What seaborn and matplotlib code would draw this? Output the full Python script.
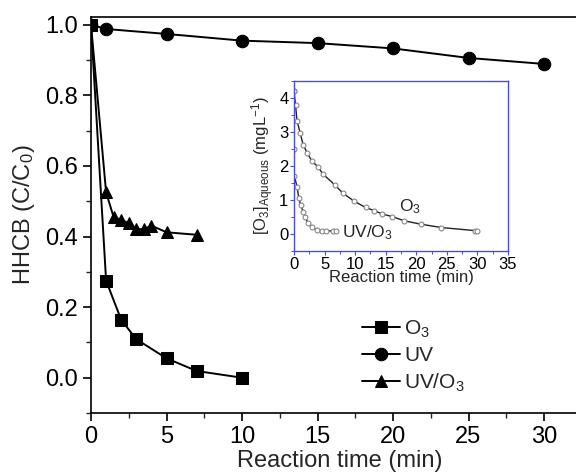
import numpy as np
import pandas as pd
import matplotlib
matplotlib.use("Agg")
import matplotlib.pyplot as plt
import seaborn as sns
from matplotlib.ticker import MultipleLocator

# ---- main data ----
t_o3 = [0, 1, 2, 3, 5, 7, 10]
c_o3 = [1.0, 0.275, 0.164, 0.109, 0.055, 0.019, 0.0]

t_uv = [0, 1, 5, 10, 15, 20, 25, 30]
c_uv = [1.0, 0.988, 0.974, 0.955, 0.948, 0.933, 0.906, 0.889]

t_uvo3 = [0, 1, 1.5, 2, 2.5, 3, 3.5, 4, 5, 7]
c_uvo3 = [1.0, 0.525, 0.455, 0.447, 0.438, 0.421, 0.421, 0.431, 0.412, 0.405]

# ---- inset data ----
ti_o3 = [0, 0.25, 0.5, 1, 1.5, 2.2, 2.9, 3.9, 4.7, 6.7, 8.0, 9.8, 11.7, 13.1, 14.4, 16.1, 18.0, 20.7, 24.1, 29.6, 30]
ci_o3 = [4.2, 3.8, 3.32, 2.98, 2.62, 2.37, 2.15, 1.98, 1.77, 1.44, 1.2, 0.97, 0.78, 0.69, 0.59, 0.51, 0.39, 0.29, 0.19, 0.1, 0.1]

ti_uvo3 = [0, 0.02, 0.05, 0.5, 0.8, 1.1, 1.5, 1.8, 2.3, 2.9, 3.7, 4.5, 5.3, 6.3, 6.8]
ci_uvo3 = [4.2, 2.5, 1.72, 1.38, 1.05, 0.85, 0.66, 0.51, 0.31, 0.21, 0.12, 0.08, 0.09, 0.09, 0.09]

sns.set_style("ticks")
plt.rcParams['font.family'] = ['Liberation Sans', 'DejaVu Sans']
plt.rcParams['mathtext.fontset'] = 'custom'
plt.rcParams['mathtext.rm'] = 'Liberation Sans'
plt.rcParams['mathtext.it'] = 'Liberation Sans:italic'

fig = plt.figure(figsize=(5.76, 4.74), dpi=100)
ax = fig.add_axes([91/576, 1-413/474, 33*15.1/576, (413-17)/474])

sns.lineplot(x=t_o3, y=c_o3, ax=ax, color='black', marker='s', markersize=8,
             markeredgecolor='black', lw=1.4, label='O$_3$')
sns.lineplot(x=t_uv, y=c_uv, ax=ax, color='black', marker='o', markersize=9,
             markeredgecolor='black', lw=1.4, label='UV')
sns.lineplot(x=t_uvo3, y=c_uvo3, ax=ax, color='black', marker='^', markersize=9,
             markeredgecolor='black', lw=1.4, label='UV/O$_3$')

ax.set_xlim(0, 33)
ax.set_ylim(-0.1, 1.022)
ax.xaxis.set_major_locator(MultipleLocator(5))
ax.xaxis.set_minor_locator(MultipleLocator(2.5))
ax.yaxis.set_major_locator(MultipleLocator(0.2))
ax.yaxis.set_minor_locator(MultipleLocator(0.1))
ax.tick_params(which='major', direction='out', length=6, width=1.2, labelsize=17, colors='black')
ax.tick_params(which='minor', direction='out', length=3.5, width=1.0)
ax.set_xlabel('Reaction time (min)', fontsize=17, labelpad=1)
ax.set_ylabel('HHCB (C/C$_0$)', fontsize=17, labelpad=6)
for s in ax.spines.values():
    s.set_linewidth(1.2)
    s.set_color('black')
ax.yaxis.set_major_formatter(matplotlib.ticker.FormatStrFormatter('%.1f'))

leg = ax.legend(loc='upper left', bbox_to_anchor=(352/576, 1-308/474), bbox_transform=fig.transFigure,
                frameon=False, fontsize=15, handlelength=1.8, handletextpad=0.2, labelspacing=0.3,
                borderpad=0)

# ---- inset ----
blue = '#4a4ae8'
axi = fig.add_axes([294/576, 1-251/474, 214/576, 170/474])
sns.lineplot(x=ti_o3, y=ci_o3, ax=axi, color='#222222', lw=1.0, marker='o', markersize=3.5,
             markerfacecolor='white', markeredgecolor='#888888', markeredgewidth=0.8)
sns.lineplot(x=ti_uvo3, y=ci_uvo3, ax=axi, color='#222222', lw=1.0, marker='o', markersize=3.5,
             markerfacecolor='white', markeredgecolor='#888888', markeredgewidth=0.8)
axi.set_xlim(0, 35)
axi.set_ylim(-0.5, 4.5)
axi.xaxis.set_major_locator(MultipleLocator(5))
axi.xaxis.set_minor_locator(MultipleLocator(2.5))
axi.yaxis.set_major_locator(MultipleLocator(1))
axi.yaxis.set_minor_locator(MultipleLocator(0.5))
axi.tick_params(which='major', direction='out', length=3, width=0.8, color=blue, labelsize=12, labelcolor='black', pad=1)
axi.tick_params(which='minor', direction='out', length=2, width=0.7, color=blue)
for s in axi.spines.values():
    s.set_color(blue)
    s.set_linewidth(1.0)
axi.set_xlabel('Reaction time (min)', fontsize=12, labelpad=-1)
axi.set_ylabel(r'[O$_3$]$_{\mathrm{Aqueous}}$ (mgL$^{-1}$)', fontsize=12, labelpad=2)
axi.text(19, 0.8, 'O$_3$', fontsize=12.5, ha='center', va='center')
axi.text(7.8, 0.03, 'UV/O$_3$', fontsize=12.5, ha='left', va='center')

fig.savefig('out.png', dpi=100)
